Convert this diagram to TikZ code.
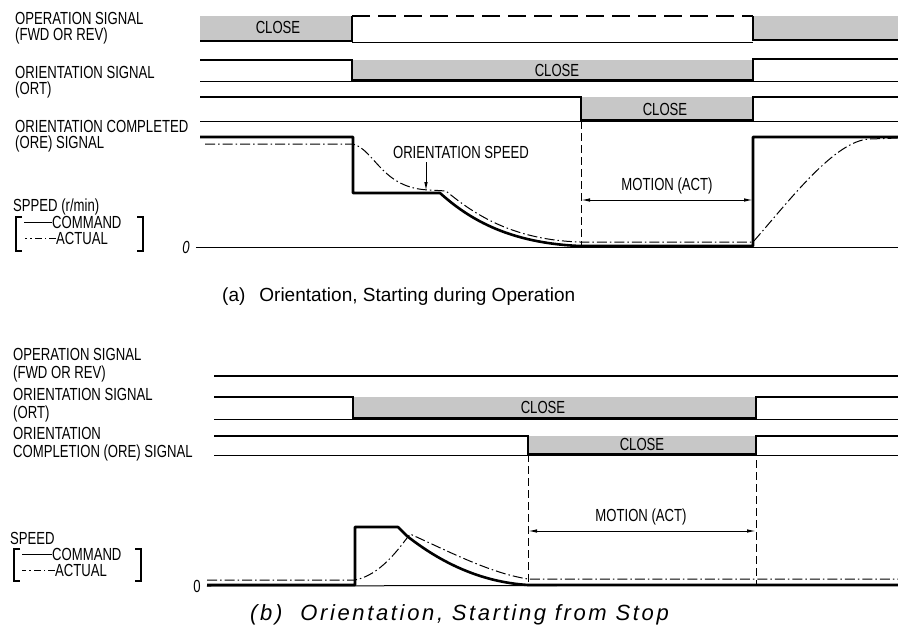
\documentclass[tikz,border=0pt]{standalone}
\usepackage{fontspec}
\setmainfont{Liberation Sans}
\newfontfamily\narrowfont[FakeStretch=0.75]{Liberation Sans}
\newfontfamily\wideitfont[LetterSpace=12]{Liberation Sans Italic}
\usetikzlibrary{arrows.meta, positioning, calc}

\begin{document}
\begin{tikzpicture}
  [x=1pt, y=-1pt, >={Latex[length=9pt,width=3.5pt]},
   lbl/.style={font=\narrowfont\fontsize{17.5}{16.5}\selectfont, inner sep=0pt, align=left, anchor=west},
   tag/.style={font=\narrowfont\fontsize{17.5}{16.5}\selectfont, inner sep=0pt},
   caption/.style={font=\fontsize{19}{22}\selectfont, inner sep=0pt, anchor=west},
   hi/.style={line width=2.6pt},
   lo/.style={line width=1pt},
   closebox/.style={fill=black!22, draw=none},
   cmd/.style={line width=2.6pt, line join=round},
   act/.style={line width=1pt, dash pattern=on 10pt off 3pt on 1.5pt off 3pt},
   limit/.style={line width=1pt, dash pattern=on 8pt off 4pt},
   dim/.style={<->, line width=1pt}
  ]
  \useasboundingbox (0,0) rectangle (898,635);

  % (a) labels
  \node[lbl] (opA) at (15,28) {OPERATION SIGNAL\\(FWD OR REV)};
  \node[lbl] (ortA) at (15,82) {ORIENTATION SIGNAL\\(ORT)};
  \node[lbl] (oreA) at (15,136) {ORIENTATION COMPLETED\\(ORE) SIGNAL};
  \node[lbl] (spdA) at (13,207) {SPPED (r/min)};
  \node[lbl] (cmdA) at (52,222) {COMMAND};
  \node[lbl] (actA) at (56,238) {ACTUAL};
  \node[tag, font=\narrowfont\itshape\fontsize{17.5}{15}\selectfont] (zeroA) at (186,247) {0};
  \draw[line width=1.3pt] (22,217) -- (16,217) -- (16,251) -- (22,251);
  \draw[line width=1.3pt] (137,217) -- (143,217) -- (143,251) -- (137,251);
  \draw[lo] (cmdA.west) -- ++(-28,0);
  \draw[lo, dash pattern=on 7pt off 3pt on 1.5pt off 3pt] (actA.west) -- ++(-31,0);

  % (a) operation signal
  \fill[closebox] (200,16) rectangle (352,41);
  \fill[closebox] (753,16) rectangle (898,40);
  \draw[hi] (200,41) -- (352,41) -- (352,16);
  \draw[line width=2pt, dash pattern=on 18pt off 8pt] (352,16) -- (753,16);
  \draw[lo] (352,42) -- (753,42);
  \draw[hi] (753,16) -- (753,40) -- (898,40);
  \node[tag] (closeA1) at (278,27) {CLOSE};

  % (a) orientation signal
  \fill[closebox] (352,60) rectangle (753,80);
  \draw[hi] (200,60) -- (352,60) -- (352,80) -- (753,80) -- (753,59) -- (898,59);
  \draw[lo] (200,81) -- (898,81);
  \node[tag] (closeA2) at (557,70) {CLOSE};

  % (a) orientation completed
  \fill[closebox] (581,97) rectangle (753,120);
  \draw[hi] (200,97) -- (581,97) -- (581,120) -- (753,120) -- (753,97) -- (898,97);
  \draw[lo] (200,121) -- (898,121);
  \node[tag] (closeA3) at (665,109) {CLOSE};

  % (a) speed
  \draw[lo] (zeroA.east) ++(6,0) -- (898,247);
  \draw[cmd] (200,137) -- (353,137) -- (353,193) -- (440,193)
    .. controls (470,220) and (510,243) .. (580,246) -- (753,246) -- (753,137) -- (898,137);
  \draw[act] (205,144) -- (353,144) .. controls (375,150) and (382,189) .. (430,190)
    -- (446,191) .. controls (476,216) and (515,240) .. (580,242) -- (753,242)
    .. controls (790,200) and (835,140) .. (870,139) -- (898,138);
  \node[tag] (ospd) at (461,152) {ORIENTATION SPEED};
  \coordinate (ospdtip) at (426,191);
  \draw[->, lo] (ospdtip |- ospd.south) ++(0,4) -- (ospdtip);

  % (a) motion
  \draw[limit] (581,121) -- (581,247);
  \coordinate (motA1) at (581,200);
  \coordinate (motA2) at (753,200);
  \draw[dim] (motA1) -- (motA2);
  \node[tag] (motlblA) at (667,186) {MOTION (ACT)};

  \node[caption] (capA) at (222,297) {(a)\hspace{14pt}Orientation, Starting during Operation};

  % (b) labels
  \node[lbl, font=\narrowfont\fontsize{17.5}{17.5}\selectfont] (opB) at (13,365) {OPERATION SIGNAL\\(FWD OR REV)};
  \node[lbl, font=\narrowfont\fontsize{17.5}{17.5}\selectfont] (ortB) at (13,405) {ORIENTATION SIGNAL\\(ORT)};
  \node[lbl, font=\narrowfont\fontsize{17.5}{17.5}\selectfont] (oreB) at (13,444) {ORIENTATION\\COMPLETION (ORE) SIGNAL};
  \node[lbl] (spdB) at (10,538) {SPEED};
  \node[lbl] (cmdB) at (52,554) {COMMAND};
  \node[lbl] (actB) at (55,570) {ACTUAL};
  \node[tag] (zeroB) at (197,586) {0};
  \draw[line width=1.3pt] (20,549) -- (14,549) -- (14,581) -- (20,581);
  \draw[line width=1.3pt] (135,549) -- (141,549) -- (141,581) -- (135,581);
  \draw[lo] (cmdB.west) -- ++(-30,0);
  \draw[lo, dash pattern=on 7pt off 3pt on 1.5pt off 3pt] (actB.west) -- ++(-33,0);

  % (b) signals
  \draw[line width=1.6pt] (214,376) -- (898,376);
  \fill[closebox] (353,397) rectangle (756,418);
  \draw[hi] (214,397) -- (353,397) -- (353,418) -- (756,418) -- (756,397) -- (898,397);
  \draw[lo] (214,419) -- (898,419);
  \node[tag] (closeB1) at (543,407) {CLOSE};
  \fill[closebox] (528,436) rectangle (756,454);
  \draw[hi] (214,436) -- (528,436) -- (528,454) -- (756,454) -- (756,436) -- (898,436);
  \draw[lo] (214,455) -- (898,455);
  \node[tag] (closeB2) at (642,444) {CLOSE};

  % (b) speed
  \draw[lo] (zeroB.east) ++(6,0) -- (898,585);
  \draw[cmd] (207,585) -- (355,585) -- (355,527) -- (398,527) -- (407,536)
    .. controls (440,562) and (480,582) .. (528,585) -- (898,585);
  \draw[act] (207,580) -- (355,580) .. controls (380,575) and (398,550) .. (410,534)
    .. controls (450,552) and (490,573) .. (528,579) -- (898,579);

  % (b) motion
  \draw[limit] (528,454) -- (528,585);
  \draw[limit] (756,460) -- (756,585);
  \coordinate (motB1) at (528,531);
  \coordinate (motB2) at (756,531);
  \draw[dim] (motB1) -- (motB2);
  \node[tag] (motlblB) at (641,517) {MOTION (ACT)};

  \node[caption, font=\wideitfont\fontsize{22}{24}\selectfont] (capB) at (250,615) {\upshape(b)\hspace{18pt}Orientation, Starting from Stop};
\end{tikzpicture}
\end{document}
